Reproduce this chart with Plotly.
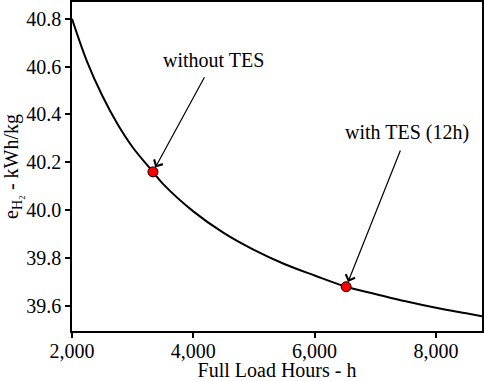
import plotly.graph_objects as go

# Curve
hours = [2000, 2250, 2500, 2750, 3000, 3335, 3500, 4000, 4500, 5000, 5500,
         6000, 6520, 7000, 7500, 8000, 8500, 8760]
e_h2 = [40.80, 40.62, 40.478, 40.36, 40.263, 40.16, 40.11, 39.995, 39.905,
        39.834, 39.775, 39.727, 39.68, 39.65, 39.619, 39.592, 39.569, 39.557]

# Highlighted cases
case_hours = [3335, 6520]
case_e = [40.16, 39.68]
case_labels = ["without TES", "with TES (12h)"]
label_pos = [(4329, 40.629), (7522, 40.323)]
arrow_tail = [(4197, 40.562), (7424, 40.256)]

x_ticks = [2000, 4000, 6000, 8000]
y_ticks = [39.6, 39.8, 40.0, 40.2, 40.4, 40.6, 40.8]

font = "Liberation Serif, Times New Roman, Times, DejaVu Serif, serif"

fig = go.Figure()
fig.add_trace(go.Scatter(x=hours, y=e_h2, mode="lines",
                         line=dict(color="black", width=2, shape="spline"),
                         showlegend=False, hoverinfo="skip"))
fig.add_trace(go.Scatter(x=case_hours, y=case_e, mode="markers",
                         marker=dict(color="#ff0000", size=10,
                                     line=dict(color="black", width=1)),
                         showlegend=False))

for (cx, cy), lab, (tx, ty), (ax, ay) in zip(zip(case_hours, case_e), case_labels,
                                              label_pos, arrow_tail):
    fig.add_annotation(x=cx, y=cy, ax=ax, ay=ay, xref="x", yref="y",
                       axref="x", ayref="y", text="", showarrow=True,
                       arrowhead=4, arrowsize=1.6, arrowwidth=1.2,
                       arrowcolor="black", standoff=5)
    fig.add_annotation(x=tx, y=ty, xref="x", yref="y", text=lab,
                       showarrow=False, font=dict(family=font, size=20, color="black"))

axis_common = dict(showline=True, linecolor="black", linewidth=1.5, mirror=True,
                   ticks="outside", ticklen=5, tickcolor="black", tickwidth=1.5,
                   showgrid=False, zeroline=False, automargin=False,
                   tickfont=dict(family=font, size=20, color="black"))

fig.update_xaxes(range=[2000, 8760], tickvals=x_ticks, tickformat=",d",
                 ticklabelstandoff=-4,
                 title=dict(text="Full Load Hours - h",
                            font=dict(family=font, size=20, color="black"),
                            standoff=0),
                 **axis_common)
fig.update_yaxes(range=[39.495, 40.87], tickvals=y_ticks, tickformat=".1f",
                 title=dict(text="e<sub>H₂</sub> - kWh/kg",
                            font=dict(family=font, size=20, color="black"),
                            standoff=4),
                 **axis_common)

fig.update_layout(width=484, height=381,
                  font=dict(family=font, size=20, color="black"),
                  margin=dict(l=72, r=2, t=2, b=50),
                  plot_bgcolor="white", paper_bgcolor="white")

fig.write_html("out.html", config={"displayModeBar": False},
               post_script="document.body.style.margin='0';document.body.style.overflow='hidden';")
